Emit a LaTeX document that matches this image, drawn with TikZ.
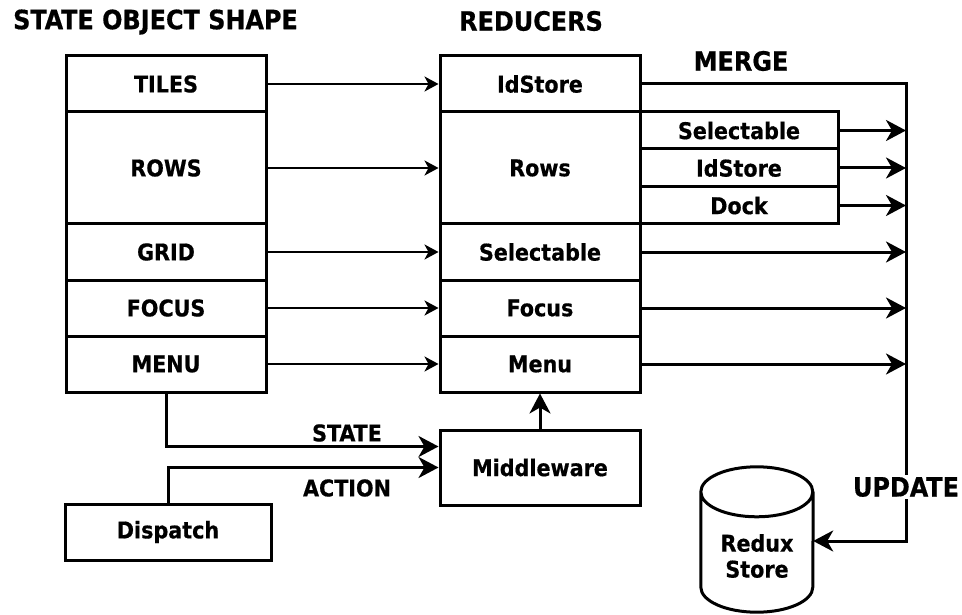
\documentclass[tikz,border=0pt]{standalone}
\usepackage{fontspec}
\setmainfont{DejaVu Sans Condensed}[BoldFeatures={FakeBold=0.6}]
\usetikzlibrary{arrows.meta,calc}
\begin{document}
\begin{tikzpicture}[x=1pt,y=-1pt,
  every node/.style={font=\fontsize{23}{24}\selectfont\bfseries, inner sep=0pt},
  title/.style={font=\fontsize{26.6}{28}\selectfont\bfseries},
  cell/.style={draw, line width=3pt, minimum width=200pt},
  subcell/.style={draw, line width=3pt, minimum width=198pt},
  feed/.style={line width=2pt, -{Stealth[length=14pt,width=15pt,inset=4pt]}},
  flow/.style={line width=3pt, -{Stealth[length=20pt,width=21pt,inset=6pt]}}]
\useasboundingbox (0,0) rectangle (962,615);

% headings
\node[title, anchor=west] (t1) at (13,22) {STATE OBJECT SHAPE};
\node[title] (t2) at (531,21) {REDUCERS};
\node[title] (t3) at (741,61) {MERGE};

% state object column
\node[cell, minimum height=56pt]  (tiles) at (166,84)  {TILES};
\node[cell, minimum height=112pt] (rows)  at (166,168) {ROWS};
\node[cell, minimum height=56pt]  (grid)  at (166,252) {GRID};
\node[cell, minimum height=56pt]  (focus) at (166,308) {FOCUS};
\node[cell, minimum height=56pt]  (menu)  at (166,364) {MENU};

% reducer column
\node[cell, minimum height=56pt]  (rid)   at (540,84)  {IdStore};
\node[cell, minimum height=112pt] (rrows) at (540,168) {Rows};
\node[cell, minimum height=56pt]  (rsel)  at (540,252) {Selectable};
\node[cell, minimum height=56pt]  (rfoc)  at (540,308) {Focus};
\node[cell, minimum height=56pt]  (rmenu) at (540,364) {Menu};

% nested reducers of Rows
\node[subcell, minimum height=37pt] (s1) at (739,130.5) {Selectable};
\node[subcell, minimum height=38pt] (s2) at (739,168)   {IdStore};
\node[subcell, minimum height=37pt] (s3) at (739,205.5) {Dock};

% middleware and dispatch
\node[cell, minimum height=75pt] (mw) at (540,467.5) {Middleware};
\node[draw, line width=3pt, minimum width=206pt, minimum height=56pt] (disp) at (168,532) {Dispatch};

% redux store (cylinder)
\node[minimum width=112pt, minimum height=145pt] (store) at (757,539.5) {};
\node[align=center, font=\fontsize{23}{26}\selectfont\bfseries] (slabel) at (757,556) {Redux\\Store};
\draw[line width=3pt]
  ($(store.north west)+(0,25)$) arc[x radius=56, y radius=25, start angle=180, end angle=-180]
  ($(store.north west)+(0,25)$) -- ($(store.south west)+(0,-25)$)
  arc[x radius=56, y radius=25, start angle=180, end angle=0]
  -- ($(store.north east)+(0,25)$);

% state -> reducers
\draw[feed] (tiles.east) -- (rid.west);
\draw[feed] (rows.east)  -- (rrows.west);
\draw[feed] (grid.east)  -- (rsel.west);
\draw[feed] (focus.east) -- (rfoc.west);
\draw[feed] (menu.east)  -- (rmenu.west);

% merge bus
\coordinate (mtop) at (906,84);
\coordinate (mbot) at (906,541);
\draw[flow] (rid.east) -- (mtop) -- (mbot) -- (store.east |- mbot);
\node[title, fill=white, inner sep=2pt] (upd) at (906,487) {UPDATE};

\draw[flow] (s1.east)    -- (s1.east -| mtop);
\draw[flow] (s2.east)    -- (s2.east -| mtop);
\draw[flow] (s3.east)    -- (s3.east -| mtop);
\draw[flow] (rsel.east)  -- (rsel.east -| mtop);
\draw[flow] (rfoc.east)  -- (rfoc.east -| mtop);
\draw[flow] (rmenu.east) -- (rmenu.east -| mtop);

% state and action into middleware
\coordinate (mwin) at ([yshift=-18pt]mw.north west);
\draw[flow] (menu.south) |- (mwin);
\draw[flow] (disp.north) |- (mw.west);
\node (lstate)  at (347,433) {STATE};
\node (laction) at (347,488) {ACTION};
\draw[flow] (mw.north) -- (rmenu.south);
\end{tikzpicture}
\end{document}
